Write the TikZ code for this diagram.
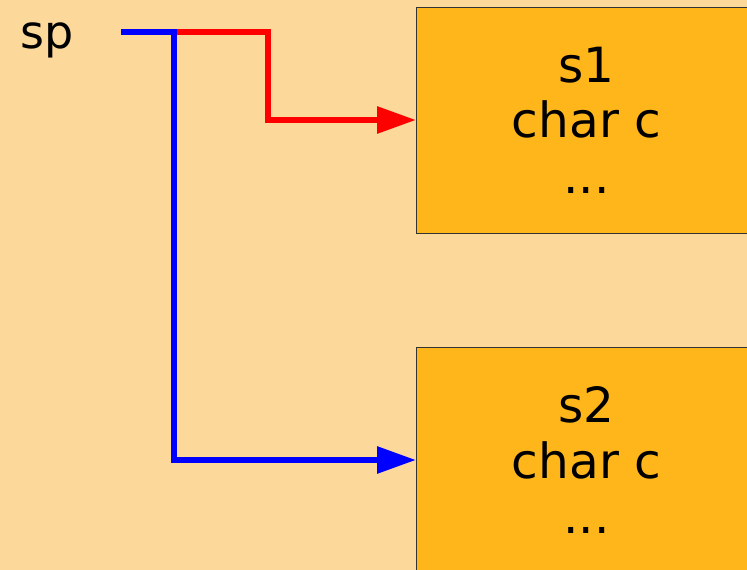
\documentclass[tikz,border=0pt]{standalone}
\usepackage{fontspec}
\setmainfont{DejaVu Sans}
\usetikzlibrary{arrows.meta}
\definecolor{bgpeach}{RGB}{253,216,155}
\definecolor{boxorange}{RGB}{255,182,27}
\definecolor{boxedge}{RGB}{51,51,51}
\begin{document}
\begin{tikzpicture}[x=1pt,y=-1pt,
  structbox/.style={draw=boxedge,line width=1pt,fill=boxorange,
    minimum width=341pt,minimum height=226pt,inner sep=0pt,outer sep=0pt,
    anchor=north west,align=center,
    font=\fontsize{48.5}{55.5}\selectfont},
  ptrlabel/.style={inner sep=0pt,anchor=base west,font=\fontsize{46}{55.5}\selectfont},
  ptr/.style={line width=6pt,-{Triangle[length=39pt,width=26pt]}}]
  % canvas
  \fill[bgpeach] (0,0) rectangle (747,570);
  \useasboundingbox (0,0) rectangle (747,570);
  \clip (0,0) rectangle (747,570);

  % two structures
  \node[structbox] (s1) at (416,7) {s1\\char c\\...};
  \node[structbox] (s2) at (416,347) {s2\\char c\\...};

  % pointer variable
  \node[ptrlabel] (sp) at (20,48) {sp};
  \coordinate (spout) at (121,32);
  \coordinate (fork) at (174,32);
  \coordinate (redbend) at (268,32);

  % pointer to s1 (red) and to s2 (blue)
  \draw[ptr,red] (fork) -- (redbend) |- (s1.west);
  \draw[ptr,blue] (spout) -- (fork) |- (s2.west);
\end{tikzpicture}
\end{document}
